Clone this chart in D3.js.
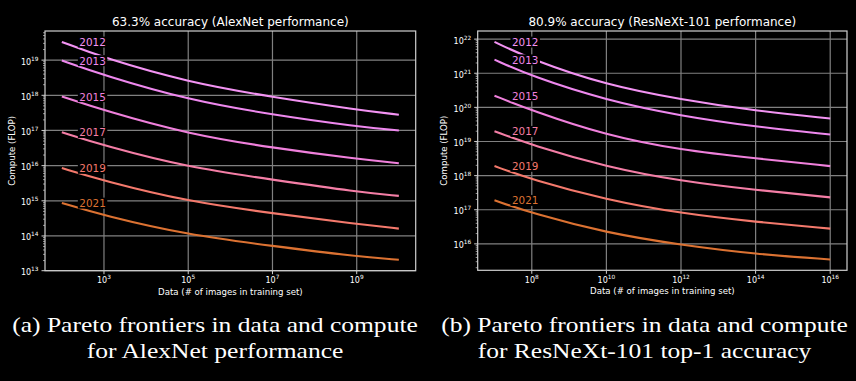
<!DOCTYPE html>
<html><head><meta charset="utf-8">
<script src="https://cdn.jsdelivr.net/npm/d3@7"></script>
<style>body{margin:0;background:#000;} svg{display:block;}</style>
</head><body><svg id="c" width="856" height="381"></svg>
<script>
// ---------- data ----------
const years = ["2012", "2013", "2015", "2017", "2019", "2021"];

// Panel (a): AlexNet performance
const alexnetData = [1e2, 1e3, 1e5, 1e7, 1e9, 1e10];
const alexnet2012 = [3.3e19, 1.15e19, 2.34e18, 8.9e17, 3.9e17, 2.8e17];
const alexnet2013 = [9.8e18, 3.7e18, 7.4e17, 2.8e17, 1.3e17, 1.0e17];
const alexnet2015 = [9.3e17, 3.7e17, 7.9e16, 3.2e16, 1.55e16, 1.17e16];
const alexnet2017 = [8.9e16, 3.7e16, 8.9e15, 4.0e15, 1.8e15, 1.38e15];
const alexnet2019 = [8.5e15, 3.7e15, 9.5e14, 4.4e14, 2.2e14, 1.62e14];
const alexnet2021 = [8.7e14, 3.8e14, 1.07e14, 5.2e13, 2.6e13, 2.1e13];
const alexnetXTicks = [1e3, 1e5, 1e7, 1e9];

// Panel (b): ResNeXt-101 performance
const resnextData = [1e7, 1e8, 1e10, 1e12, 1e14, 1e16];
const resnext2012 = [8.3e21, 2.5e21, 4.5e20, 1.7e20, 7.9e19, 4.7e19];
const resnext2013 = [2.5e21, 8.1e20, 1.6e20, 5.6e19, 2.7e19, 1.6e19];
const resnext2015 = [2.2e20, 8.1e19, 1.5e19, 5.6e18, 3.2e18, 1.9e18];
const resnext2017 = [2.0e19, 7.8e18, 1.8e18, 6.9e17, 3.8e17, 2.3e17];
const resnext2019 = [1.9e18, 7.6e17, 1.95e17, 7.8e16, 4.4e16, 2.8e16];
const resnext2021 = [1.9e17, 7.9e16, 2.1e16, 9.3e15, 5.0e15, 3.5e15];
const resnextXTicks = [1e8, 1e10, 1e12, 1e14, 1e16];

const titleA = "63.3% accuracy (AlexNet performance)";
const titleB = "80.9% accuracy (ResNeXt-101 performance)";
const xLabel = "Data (# of images in training set)";
const yLabel = "Compute (FLOP)";
const captionA = ["(a) Pareto frontiers in data and compute", "for AlexNet performance"];
const captionB = ["(b) Pareto frontiers in data and compute", "for ResNeXt-101 top-1 accuracy"];

// ---------- style ----------
const colors = ["#f393f3", "#ee88ee", "#f080dc", "#f47ea6", "#f4796c", "#dc7232"];
const gridColor = "#808080";
const frameColor = "#d0d0d0";
const textColor = "#ffffff";

const svg = d3.select("#c");

function log10(v){ return Math.log10(v); }

function panel(opt){
  const {left, right, top, bottom, xs, series, xTicks, title} = opt;
  const allY = series.flat();
  const lx0 = log10(d3.min(xs)), lx1 = log10(d3.max(xs));
  const ly0 = log10(d3.min(allY)), ly1 = log10(d3.max(allY));
  const mx = (lx1 - lx0) * 0.05, my = (ly1 - ly0) * 0.05;
  const x = d3.scaleLog().domain([10 ** (lx0 - mx), 10 ** (lx1 + mx)]).range([left, right]);
  const y = d3.scaleLog().domain([10 ** (ly0 - my), 10 ** (ly1 + my)]).range([bottom, top]);

  const g = svg.append("g");

  // y decades (small tolerance so an edge decade is kept)
  const yDec = [];
  for (let k = Math.ceil(ly0 - my - 0.03); k <= Math.floor(ly1 + my + 0.03); k++) yDec.push(k);
  const yMinor = [];
  for (let k = Math.floor(ly0 - my); k <= Math.ceil(ly1 + my); k++)
    for (let s = 2; s <= 9; s++) {
      const v = s * 10 ** k;
      if (v >= y.domain()[0] && v <= y.domain()[1]) yMinor.push(v);
    }
  const yc = v => Math.min(bottom, Math.max(top, y(v)));

  // grid
  g.append("g").selectAll("line").data(yDec).join("line")
    .attr("x1", left).attr("x2", right)
    .attr("y1", d => yc(10 ** d)).attr("y2", d => yc(10 ** d))
    .attr("stroke", gridColor).attr("stroke-width", 1.2);
  g.append("g").selectAll("line").data(xTicks).join("line")
    .attr("y1", top).attr("y2", bottom)
    .attr("x1", d => x(d)).attr("x2", d => x(d))
    .attr("stroke", gridColor).attr("stroke-width", 1.2);

  // lines
  const line = d3.line().x(d => x(d[0])).y(d => y(d[1])).curve(d3.curveBasis);
  series.forEach((s, i) => {
    g.append("path").datum(xs.map((d, j) => [d, s[j]]))
      .attr("d", line).attr("fill", "none")
      .attr("stroke", colors[i]).attr("stroke-width", 2.1);
  });

  // labels
  series.forEach((s, i) => {
    const lg = g.append("g");
    const t = lg.append("text")
      .attr("x", x(xs[0]) + 17.5).attr("y", y(s[0]) + 1.2)
      .attr("dominant-baseline", "middle")
      .attr("font-family", "DejaVu Sans").attr("font-size", 10.4)
      .attr("fill", colors[i]).text(years[i]);
    const bb = t.node().getBBox();
    lg.insert("rect", "text")
      .attr("x", bb.x - 1.5).attr("y", bb.y + 0.5)
      .attr("width", bb.width + 3).attr("height", bb.height - 1)
      .attr("fill", "#000");
  });

  // frame
  g.append("rect").attr("x", left).attr("y", top)
    .attr("width", right - left).attr("height", bottom - top)
    .attr("fill", "none").attr("stroke", frameColor).attr("stroke-width", 1.2);

  // y ticks
  g.append("g").selectAll("line").data(yMinor).join("line")
    .attr("x1", left - 2).attr("x2", left)
    .attr("y1", d => y(d)).attr("y2", d => y(d))
    .attr("stroke", frameColor).attr("stroke-width", 0.7);
  g.append("g").selectAll("line").data(yDec).join("line")
    .attr("x1", left - 3.5).attr("x2", left)
    .attr("y1", d => yc(10 ** d)).attr("y2", d => yc(10 ** d))
    .attr("stroke", frameColor).attr("stroke-width", 1);
  yDec.forEach(k => {
    const t = g.append("text")
      .attr("x", left - 6.5).attr("y", yc(10 ** k) + 4.4)
      .attr("text-anchor", "end")
      .attr("font-family", "DejaVu Sans").attr("font-size", 8)
      .attr("fill", textColor);
    t.append("tspan").text("10");
    t.append("tspan").attr("dy", -4).attr("font-size", 5.8).text(String(k));
  });

  // x ticks
  g.append("g").selectAll("line").data(xTicks).join("line")
    .attr("y1", bottom).attr("y2", bottom + 3.5)
    .attr("x1", d => x(d)).attr("x2", d => x(d))
    .attr("stroke", frameColor).attr("stroke-width", 1);
  xTicks.forEach(v => {
    const t = g.append("text")
      .attr("x", x(v)).attr("y", bottom + 12.3)
      .attr("text-anchor", "middle")
      .attr("font-family", "DejaVu Sans").attr("font-size", 8)
      .attr("fill", textColor);
    t.append("tspan").text("10");
    t.append("tspan").attr("dy", -4).attr("font-size", 5.8).text(String(Math.round(log10(v))));
  });

  // axis labels
  g.append("text").attr("x", (left + right) / 2).attr("y", bottom + 24)
    .attr("text-anchor", "middle").attr("font-family", "DejaVu Sans").attr("font-size", 8.6)
    .attr("fill", textColor).text(xLabel);
  g.append("text")
    .attr("transform", `translate(${left - 30.5},${(top + bottom) / 2}) rotate(-90)`)
    .attr("text-anchor", "middle").attr("font-family", "DejaVu Sans").attr("font-size", 8.6)
    .attr("fill", textColor).text(yLabel);

  // title
  g.append("text").attr("x", (left + right) / 2).attr("y", top - 5)
    .attr("text-anchor", "middle").attr("font-family", "DejaVu Sans").attr("font-size", 12)
    .attr("fill", textColor).text(title);
}

panel({left: 45, right: 415.7, top: 31, bottom: 270.7, xs: alexnetData,
  series: [alexnet2012, alexnet2013, alexnet2015, alexnet2017, alexnet2019, alexnet2021],
  xTicks: alexnetXTicks, title: titleA});
panel({left: 477.7, right: 847, top: 31, bottom: 270.3, xs: resnextData,
  series: [resnext2012, resnext2013, resnext2015, resnext2017, resnext2019, resnext2021],
  xTicks: resnextXTicks, title: titleB});

// captions: horizontally stretched to match the wider serif of the original
function caption(lines, cx, targetW){
  const fs = 21;
  const g = svg.append("g");
  const t1 = g.append("text").attr("x", 0).attr("y", 332.5)
    .attr("text-anchor", "middle").attr("font-family", "Liberation Serif")
    .attr("font-size", fs).attr("fill", textColor).text(lines[0]);
  const w = t1.node().getComputedTextLength();
  const ratio = targetW / w;
  g.append("text").attr("x", 0).attr("y", 358.5)
    .attr("text-anchor", "middle").attr("font-family", "Liberation Serif")
    .attr("font-size", fs).attr("fill", textColor).text(lines[1]);
  g.attr("transform", `translate(${cx},0) scale(${ratio},1)`);
}
caption(captionA, 215, 406);
caption(captionB, 644.5, 407);
</script>
</body></html>
